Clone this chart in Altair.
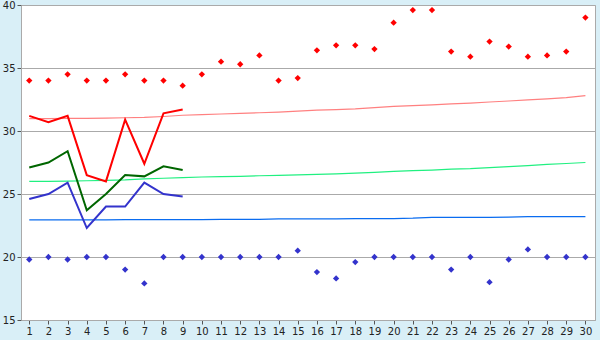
import altair as alt
import pandas as pd

days = list(range(1, 31))
max_pts = [34.0, 34.0, 34.5, 34.0, 34.0, 34.5, 34.0, 34.0, 33.6, 34.5,
           35.5, 35.3, 36.0, 34.0, 34.2, 36.4, 36.8, 36.8, 36.5, 38.6,
           39.6, 39.6, 36.3, 35.9, 37.1, 36.7, 35.9, 36.0, 36.3, 39.0]
min_pts = [19.8, 20.0, 19.8, 20.0, 20.0, 19.0, 17.9, 20.0, 20.0, 20.0,
           20.0, 20.0, 20.0, 20.0, 20.5, 18.8, 18.3, 19.6, 20.0, 20.0,
           20.0, 20.0, 19.0, 20.0, 18.0, 19.8, 20.6, 20.0, 20.0, 20.0]
obs_days = [1, 2, 3, 4, 5, 6, 7, 8, 9]
obs_max = [31.2, 30.7, 31.2, 26.5, 26.0, 30.9, 27.4, 31.4, 31.7]
obs_mean = [27.1, 27.5, 28.4, 23.7, 25.0, 26.5, 26.4, 27.2, 26.9]
obs_min = [24.6, 25.0, 25.9, 22.3, 24.0, 24.0, 25.9, 25.0, 24.8]
norm_max = [30.98, 30.98, 31.0, 31.0, 31.02, 31.05, 31.08, 31.15, 31.25, 31.3,
            31.35, 31.4, 31.45, 31.5, 31.58, 31.65, 31.7, 31.75, 31.85, 31.95,
            32.02, 32.08, 32.15, 32.22, 32.3, 32.38, 32.47, 32.55, 32.65, 32.8]
norm_mean = [26.0, 26.0, 26.02, 26.05, 26.08, 26.12, 26.2, 26.25, 26.3, 26.35,
             26.38, 26.4, 26.45, 26.48, 26.52, 26.55, 26.6, 26.65, 26.72, 26.8,
             26.85, 26.9, 26.98, 27.02, 27.1, 27.18, 27.25, 27.35, 27.42, 27.5]
norm_min = [22.95, 22.95, 22.95, 22.95, 22.95, 22.96, 22.96, 22.97, 22.97, 22.97,
            22.98, 22.98, 22.99, 23.02, 23.02, 23.03, 23.03, 23.04, 23.04, 23.05,
            23.08, 23.15, 23.15, 23.15, 23.15, 23.16, 23.2, 23.2, 23.2, 23.2]
y_ticks = [15, 20, 25, 30, 35, 40]

x_scale = alt.Scale(domain=[0.57, 30.5], nice=False, zero=False)
y_scale = alt.Scale(domain=[15, 40], nice=False, zero=False)

x_axis = alt.Axis(values=days, title=None, grid=False, labelFont="DejaVu Sans",
                  labelFontSize=10, labelColor="#222222", tickColor="#555555",
                  tickSize=4, domainColor="#aaaaaa", labelPadding=2, format="d",
                  labelFlush=False, labelOverlap=False)
y_axis = alt.Axis(values=y_ticks, title=None, grid=True,
                  gridColor="#aaaaaa", labelFont="DejaVu Sans", labelFontSize=10,
                  labelColor="#222222", tickColor="#555555", tickSize=4,
                  domainColor="#aaaaaa", labelPadding=2, labelFlush=False)

def line_df(xs, ys):
    return pd.DataFrame({"day": xs, "v": ys})

def enc(ch):
    return ch.encode(
        x=alt.X("day:Q", scale=x_scale, axis=x_axis),
        y=alt.Y("v:Q", scale=y_scale, axis=y_axis),
    )

def line(xs, ys, color, width):
    return enc(alt.Chart(line_df(xs, ys)).mark_line(
        color=color, strokeWidth=width, interpolate="linear", clip=True))

def pts(xs, ys, color):
    return enc(alt.Chart(line_df(xs, ys)).mark_point(
        shape="diamond", filled=True, color=color, size=40, opacity=1))

chart = alt.layer(
    line(days, norm_max, "#ff8080", 1.2),
    line(days, norm_mean, "#20f080", 1.2),
    line(days, norm_min, "#0a6cf0", 1.2),
    line(obs_days, obs_max, "#ff0000", 2),
    line(obs_days, obs_mean, "#006600", 2),
    line(obs_days, obs_min, "#3333cc", 2),
    pts(days, max_pts, "#ff0000"),
    pts(days, min_pts, "#3333cc"),
).properties(
    width=574, height=315,
    background="#d9eff7",
    padding={"left": 21, "top": 5, "right": 5, "bottom": 20},
    autosize=alt.AutoSizeParams(type="none"),
).configure_view(
    fill="white", stroke="#aaaaaa", strokeWidth=1
)

chart.save("out.html", embed_options={"renderer": "svg", "actions": False})
